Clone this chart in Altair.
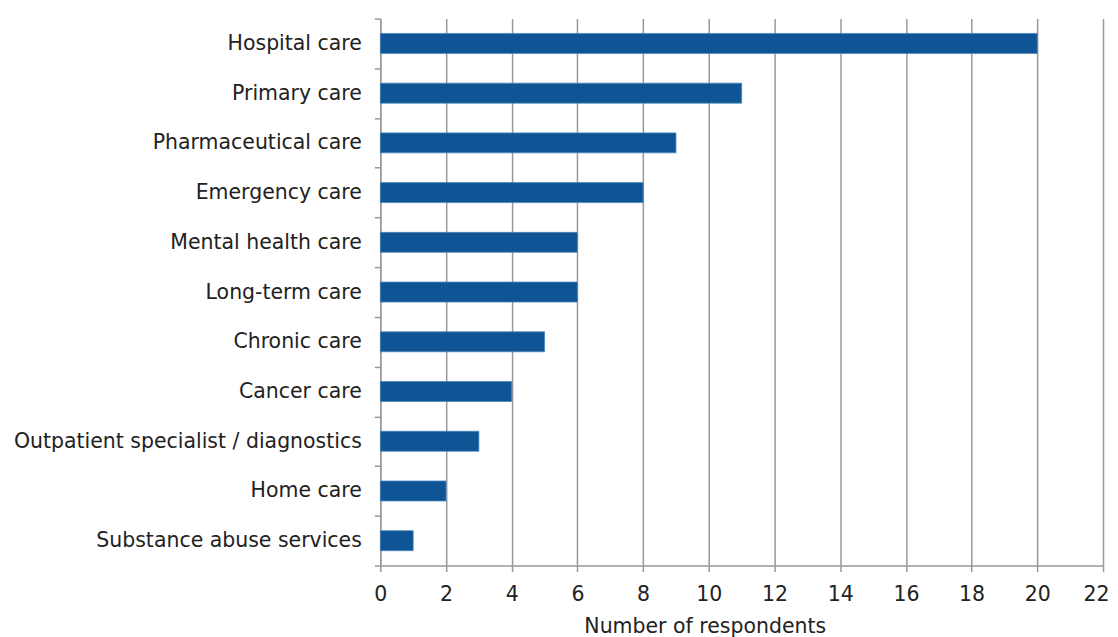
import altair as alt
import pandas as pd

categories = ["Hospital care", "Primary care", "Pharmaceutical care", "Emergency care",
              "Mental health care", "Long-term care", "Chronic care", "Cancer care",
              "Outpatient specialist / diagnostics", "Home care", "Substance abuse services"]
values = [20, 11, 9, 8, 6, 6, 5, 4, 3, 2, 1]
x_ticks = list(range(0, 23, 2))

df = pd.DataFrame({"category": categories, "value": values})

FONT = "DejaVu Sans"
GRID = "#999999"
TXT = "#222222"
FS = 20.5

chart = alt.Chart(df).mark_bar(
    color="#0F5494", stroke="#4A86C0", strokeWidth=0.8, size=20
).encode(
    x=alt.X("value:Q",
            scale=alt.Scale(domain=[0, 22], nice=False),
            axis=alt.Axis(values=x_ticks, title="Number of respondents",
                          grid=True, gridColor=GRID, gridWidth=1.5,
                          domainColor=GRID, domainWidth=1.5,
                          tickColor=GRID, tickWidth=1.5, tickSize=6,
                          labelFlush=False,
                          labelOffset=alt.expr("datum.value == 22 ? -7 : 0"),
                          labelFont=FONT, labelFontSize=FS, labelColor=TXT,
                          labelPadding=13, titleFont=FONT, titleFontSize=FS,
                          titleFontWeight="normal", titleColor=TXT,
                          titleX=325, titlePadding=12)),
    y=alt.Y("category:N", sort=categories,
            scale=alt.Scale(paddingInner=0, paddingOuter=0),
            axis=alt.Axis(title=None, domainColor=GRID, domainWidth=1.5,
                          tickColor=GRID, tickWidth=1.5, tickSize=6,
                          tickBand="extent",
                          labelFont=FONT, labelFontSize=FS, labelColor=TXT,
                          labelPadding=13, labelLimit=400,
                          minExtent=369, maxExtent=369)),
).properties(
    width=724, height=548,
    padding={"left": 4, "top": 0, "right": 0, "bottom": 0},
).configure_view(stroke=None)

chart.save("out.html", embed_options={"renderer": "svg", "actions": False})
